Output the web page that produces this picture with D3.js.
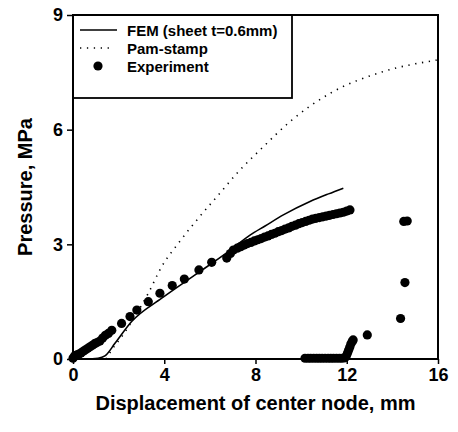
<!DOCTYPE html>
<html>
<head>
<meta charset="utf-8">
<script src="https://cdn.jsdelivr.net/npm/d3@7/dist/d3.min.js"></script>
<style>
  html, body { margin: 0; padding: 0; background: #fff; }
  svg { display: block; }
  text { font-family: "Liberation Sans", Arial, Helvetica, sans-serif; font-weight: bold; fill: #000; }
</style>
</head>
<body>
<svg id="chart" width="458" height="432"></svg>
<script>
// Axis ticks
const xTicks = [0, 4, 8, 12, 16];
const yTicks = [0, 3, 6, 9];

// Legend entries
const seriesNames = ["FEM (sheet t=0.6mm)", "Pam-stamp", "Experiment"];

// FEM simulation, sheet thickness 0.6 mm: [displacement mm, pressure MPa]
const femCurve = [
  [0, 0.02], [0.6, 0.0], [1.1, 0.02], [1.4, 0.08], [1.84, 0.41], [2.57, 0.98],
  [3.89, 1.59], [5.35, 2.2], [6.81, 2.81], [7.76, 3.24], [8.42, 3.48],
  [9.22, 3.77], [10.39, 4.12], [11.2, 4.32], [11.85, 4.47]
];

// Pam-stamp simulation
const pamCurve = [
  [1.45, 0.0], [1.7, 0.24], [2.13, 0.58], [2.7, 1.1], [3.3, 1.72], [3.89, 2.42],
  [4.62, 3.03], [5.49, 3.68], [6.37, 4.29], [7.25, 4.9], [8.27, 5.51],
  [9.51, 6.21], [11.27, 6.95], [13.6, 7.52], [15.94, 7.82]
];

// Measured loading branch
const expLoading = [
  [0, 0.02], [0.05, 0.06], [0.1, 0.09], [0.18, 0.11], [0.26, 0.13], [0.35, 0.16],
  [0.45, 0.2], [0.55, 0.24], [0.65, 0.28], [0.75, 0.32], [0.85, 0.36], [0.95, 0.4],
  [1.05, 0.43], [1.18, 0.47], [1.3, 0.55], [1.42, 0.62], [1.55, 0.67], [1.7, 0.75],
  [2.13, 0.93], [2.5, 1.11], [2.8, 1.28], [3.3, 1.5], [3.81, 1.72], [4.35, 1.92],
  [4.88, 2.09], [5.52, 2.33], [6.08, 2.53], [6.74, 2.64], [6.9, 2.76], [7.03, 2.85],
  [7.2, 2.9], [7.35, 2.94], [7.5, 2.98], [7.65, 3.02], [7.8, 3.05], [7.95, 3.09],
  [8.1, 3.12], [8.25, 3.15], [8.4, 3.19], [8.55, 3.22], [8.7, 3.26], [8.85, 3.29],
  [9.0, 3.33], [9.15, 3.36], [9.3, 3.4], [9.45, 3.43], [9.6, 3.47], [9.75, 3.5],
  [9.9, 3.54], [10.05, 3.57], [10.2, 3.6], [10.35, 3.63], [10.5, 3.66], [10.65, 3.68],
  [10.8, 3.7], [10.95, 3.72], [11.1, 3.74], [11.25, 3.76], [11.4, 3.78], [11.55, 3.8],
  [11.7, 3.82], [11.85, 3.84], [12.0, 3.87], [12.14, 3.9]
];

// Measured second branch
const expSecond = [
  [10.17, 0.02], [10.3, 0.02], [10.42, 0.02], [10.55, 0.02], [10.68, 0.02], [10.8, 0.02],
  [10.92, 0.02], [11.05, 0.02], [11.18, 0.02], [11.3, 0.02], [11.42, 0.02], [11.55, 0.02],
  [11.68, 0.02], [11.8, 0.02], [11.92, 0.03], [11.98, 0.08], [12.03, 0.15], [12.08, 0.23],
  [12.13, 0.31], [12.18, 0.39], [12.24, 0.46], [12.28, 0.5], [12.9, 0.63],
  [14.36, 1.06], [14.55, 2.0], [14.5, 3.6], [14.65, 3.61]
];

const svg = d3.select("#chart");
const plot = { left: 73, right: 438, top: 15, bottom: 359 };

const x = d3.scaleLinear().domain([0, 16]).range([plot.left, plot.right]);
const y = d3.scaleLinear().domain([0, 9]).range([plot.bottom, plot.top]);

const line = d3.line().x(d => x(d[0])).y(d => y(d[1])).curve(d3.curveMonotoneX);

// Curves
svg.append("path").datum(pamCurve)
  .attr("d", line).attr("fill", "none").attr("stroke", "#000")
  .attr("stroke-width", 1.6).attr("stroke-dasharray", "1.3 5.6");

svg.append("path").datum(femCurve)
  .attr("d", line).attr("fill", "none").attr("stroke", "#000")
  .attr("stroke-width", 1.6);

// Experimental points
svg.append("g").selectAll("circle")
  .data(expLoading.concat(expSecond))
  .join("circle")
  .attr("cx", d => x(d[0])).attr("cy", d => y(d[1]))
  .attr("r", 4.6).attr("fill", "#000");

// Axes
const xAxis = d3.axisBottom(x).tickValues(xTicks).tickSize(5).tickPadding(4).tickSizeOuter(0);
const yAxis = d3.axisLeft(y).tickValues(yTicks).tickSize(6).tickPadding(4).tickSizeOuter(0);

const gx = svg.append("g").attr("transform", `translate(0,${plot.bottom})`).call(xAxis);
const gy = svg.append("g").attr("transform", `translate(${plot.left},0)`).call(yAxis);
[gx, gy].forEach(g => {
  g.select(".domain").remove();
  g.selectAll(".tick line").attr("stroke", "#000").attr("stroke-width", 1.5);
  g.selectAll(".tick text").style("font-size", "18px")
    .style("font-family", "'Liberation Sans', Arial, sans-serif").style("font-weight", "bold");
});

// Frame
svg.append("rect")
  .attr("x", plot.left).attr("y", plot.top)
  .attr("width", plot.right - plot.left).attr("height", plot.bottom - plot.top)
  .attr("fill", "none").attr("stroke", "#000").attr("stroke-width", 2);

// Legend
const lg = svg.append("g");
lg.append("rect")
  .attr("x", plot.left).attr("y", plot.top)
  .attr("width", 219).attr("height", 83)
  .attr("fill", "none").attr("stroke", "#000").attr("stroke-width", 1.8);

const rowY = [30, 48, 66];
lg.append("line").attr("x1", 80).attr("x2", 117).attr("y1", rowY[0]).attr("y2", rowY[0])
  .attr("stroke", "#000").attr("stroke-width", 1.6);
lg.append("line").attr("x1", 80).attr("x2", 114).attr("y1", rowY[1]).attr("y2", rowY[1])
  .attr("stroke", "#000").attr("stroke-width", 1.6).attr("stroke-dasharray", "1.3 5.6");
lg.append("circle").attr("cx", 98).attr("cy", rowY[2]).attr("r", 4.6).attr("fill", "#000");

lg.selectAll("text.leg").data(seriesNames).join("text")
  .attr("class", "leg")
  .attr("x", 127).attr("y", (d, i) => rowY[i] + 6)
  .style("font-size", "15px")
  .text(d => d);

// Axis titles
svg.append("text")
  .attr("x", (plot.left + plot.right) / 2).attr("y", 410)
  .attr("text-anchor", "middle").style("font-size", "20px")
  .text("Displacement of center node, mm");

svg.append("text")
  .attr("transform", `translate(32,${(plot.top + plot.bottom) / 2}) rotate(-90)`)
  .attr("text-anchor", "middle").style("font-size", "20px")
  .text("Pressure, MPa");
</script>
</body>
</html>
